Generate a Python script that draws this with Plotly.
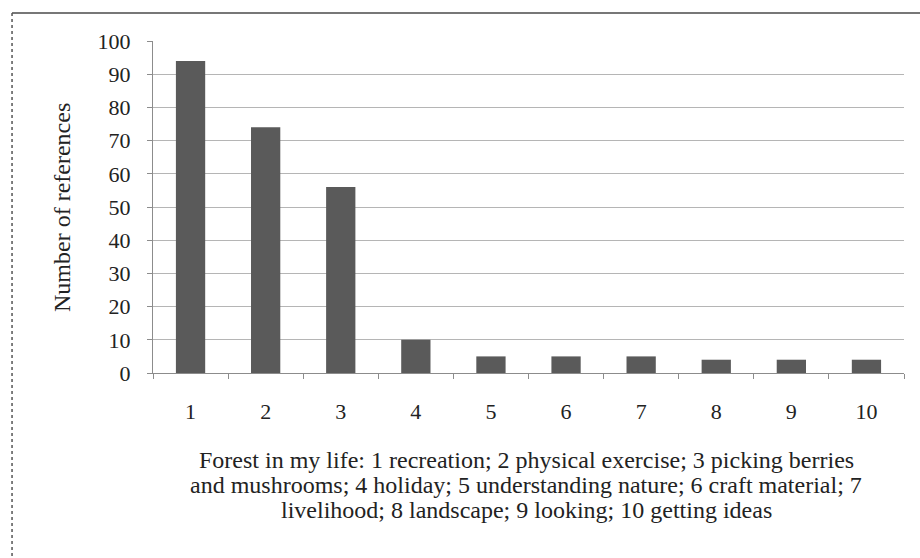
import plotly.graph_objects as go

categories = ["1", "2", "3", "4", "5", "6", "7", "8", "9", "10"]
values = [94, 74, 56, 10, 5, 5, 5, 4, 4, 4]
y_ticks = [0, 10, 20, 30, 40, 50, 60, 70, 80, 90, 100]
x_title_lines = [
    "Forest in my life: 1 recreation; 2 physical exercise; 3 picking berries",
    "and mushrooms; 4 holiday; 5 understanding nature; 6 craft material; 7",
    "livelihood; 8 landscape; 9 looking; 10 getting ideas",
]
y_title = "Number of references"

FONT = "Liberation Serif, Times New Roman, serif"
TXT = "#222222"

fig = go.Figure(go.Bar(x=categories, y=values, marker=dict(color="#5a5a5a", line=dict(width=0))))

fig.update_layout(
    width=920, height=558,
    margin=dict(l=153, r=16, t=41, b=185),
    paper_bgcolor="white", plot_bgcolor="white",
    bargap=0.61,
    showlegend=False,
    font=dict(family=FONT, color=TXT, size=22),
)
fig.update_xaxes(
    type="category", tickson="boundaries",
    ticks="outside", ticklen=5, tickcolor="#8c8c8c",
    showline=True, linecolor="#8c8c8c", linewidth=1,
    showgrid=False,
    tickfont=dict(size=22, family=FONT, color=TXT),
    ticklabelstandoff=19,
)
fig.update_yaxes(
    range=[0, 100], tickvals=y_ticks,
    ticks="outside", ticklen=5, tickcolor="#8c8c8c",
    showline=True, linecolor="#8c8c8c", linewidth=1,
    showgrid=True, gridcolor="#b5b5b5", gridwidth=1,
    zeroline=False,
    tickfont=dict(size=22, family=FONT, color=TXT),
    ticklabelstandoff=12,
)

# x-axis title (three centred lines)
title_y = [-0.2620, -0.3373, -0.4127]
for line, yy in zip(x_title_lines, title_y):
    fig.add_annotation(text=line, xref="paper", yref="paper", x=0.4967, y=yy,
                       xanchor="center", yanchor="middle", showarrow=False,
                       font=dict(size=24, family=FONT, color=TXT))

# y-axis title
fig.add_annotation(text=y_title, xref="paper", yref="paper", x=-0.1212, y=0.5,
                   xanchor="center", yanchor="middle", textangle=-90, showarrow=False,
                   font=dict(size=24, family=FONT, color=TXT))

# outer frame: solid top line, dotted left line
fig.add_shape(type="line", xref="paper", yref="paper", x0=-0.1877, x1=1.03, y0=1.0843, y1=1.0843,
              line=dict(color="#777777", width=2))
fig.add_shape(type="line", xref="paper", yref="paper", x0=-0.1877, x1=-0.1877, y0=1.0843, y1=-0.6,
              line=dict(color="#555555", width=1.5, dash="dot"))

fig.write_html("out.html", config={"displayModeBar": False},
               post_script="document.body.style.margin='0';")
